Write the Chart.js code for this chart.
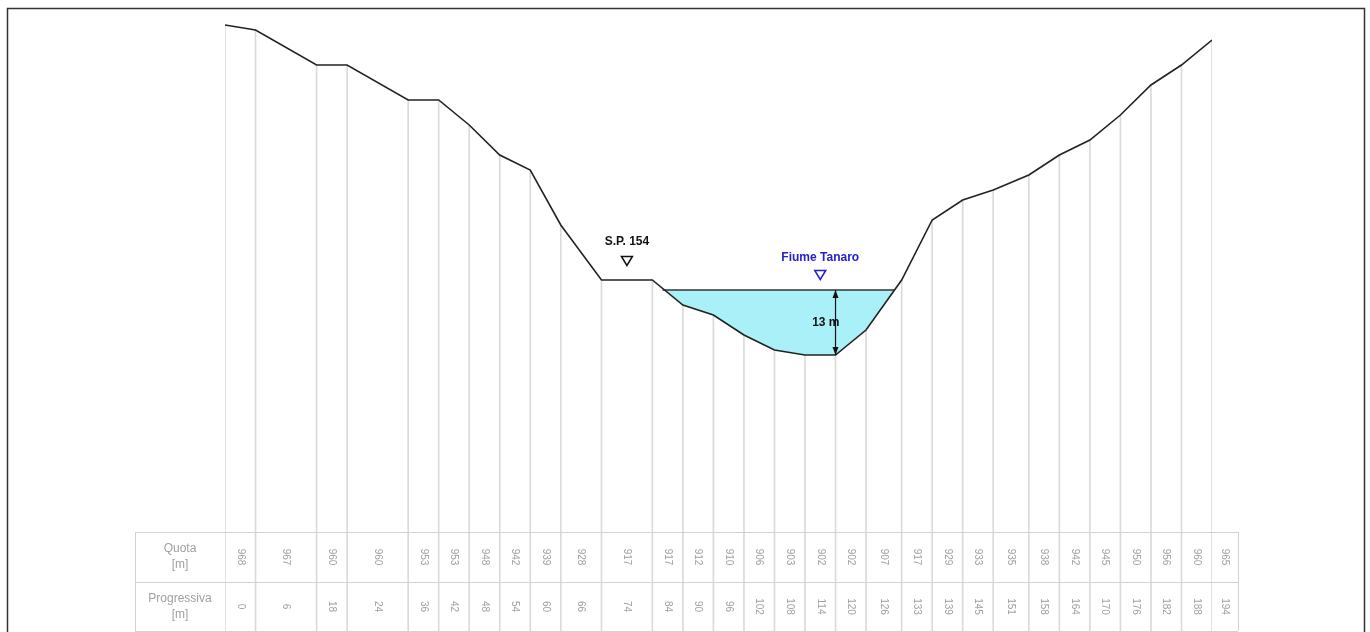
<!DOCTYPE html>
<html>
<head>
<meta charset="utf-8">
<script src="https://cdn.jsdelivr.net/npm/chart.js@4.4.0/dist/chart.umd.min.js"></script>
<style>
  html, body { margin: 0; padding: 0; background: #fff; }
  canvas { display: block; }
</style>
</head>
<body>
<canvas id="profile" width="1370" height="632"></canvas>
<script>
const progressiva = [0, 6, 18, 24, 36, 42, 48, 54, 60, 66, 74, 84, 90, 96, 102, 108, 114, 120, 126, 133, 139, 145, 151, 158, 164, 170, 176, 182, 188, 194];
const quota = [968, 967, 960, 960, 953, 953, 948, 942, 939, 928, 917, 917, 912, 910, 906, 903, 902, 902, 907, 917, 929, 933, 935, 938, 942, 945, 950, 956, 960, 965];

const waterLevel = 915;
const waterEdges = [86, 131.5];   // sponde
const waterDepth = 13;
const depthAt = 120;
const roadLabel = { text: 'S.P. 154', x: 79, y: 917 };
const riverLabel = { text: 'Fiume Tanaro', x: 117, y: 915 };

const Y_MAX = 970;
const Y_MIN = 846.6;

const ground = progressiva.map((x, i) => ({ x, y: quota[i] }));
// tratto del fondo alveo sotto il pelo libero (84 .. 133)
const riverbed = ground.slice(11, 20);

const FONT = '"Liberation Sans", Arial, sans-serif';

function triangle(ctx, x, y, color) {
  ctx.beginPath();
  ctx.moveTo(x - 5.5, y - 4.5);
  ctx.lineTo(x + 5.5, y - 4.5);
  ctx.lineTo(x, y + 4.5);
  ctx.closePath();
  ctx.lineWidth = 1.5;
  ctx.strokeStyle = color;
  ctx.stroke();
}

const frame = {
  id: 'frame',
  beforeDraw(chart) {
    const ctx = chart.ctx;
    ctx.save();
    ctx.fillStyle = '#fff';
    ctx.fillRect(0, 0, chart.width, chart.height);
    ctx.restore();
  },
  afterDraw(chart) {
    const ctx = chart.ctx;
    const xs = chart.scales.x;
    const ys = chart.scales.y;
    ctx.save();

    // annotazioni
    ctx.textAlign = 'center';
    ctx.textBaseline = 'middle';
    ctx.font = 'bold 12px ' + FONT;
    let px = xs.getPixelForValue(roadLabel.x);
    let py = ys.getPixelForValue(roadLabel.y);
    ctx.fillStyle = '#111';
    ctx.fillText(roadLabel.text, px, py - 38);
    triangle(ctx, px, py - 19, '#111');

    px = xs.getPixelForValue(riverLabel.x);
    py = ys.getPixelForValue(riverLabel.y);
    ctx.fillStyle = '#2222cc';
    ctx.fillText(riverLabel.text, px, py - 32);
    triangle(ctx, px, py - 15, '#2222cc');

    // quota idrica
    const ax = xs.getPixelForValue(depthAt);
    const aTop = ys.getPixelForValue(waterLevel);
    const aBot = ys.getPixelForValue(waterLevel - waterDepth);
    ctx.strokeStyle = '#111';
    ctx.fillStyle = '#111';
    ctx.lineWidth = 1.2;
    ctx.beginPath();
    ctx.moveTo(ax, aTop);
    ctx.lineTo(ax, aBot);
    ctx.stroke();
    [[aTop, 1], [aBot, -1]].forEach(([y, d]) => {
      ctx.beginPath();
      ctx.moveTo(ax, y);
      ctx.lineTo(ax - 3, y + 8 * d);
      ctx.lineTo(ax + 3, y + 8 * d);
      ctx.closePath();
      ctx.fill();
    });
    ctx.textAlign = 'right';
    ctx.font = 'bold 12px ' + FONT;
    ctx.fillText(waterDepth + ' m', ax + 4, (aTop + aBot) / 2);

    // tabella
    const tTop = 532, tMid = 582, tBot = 631;
    const tLeft = 135, tRight = 1238;
    ctx.strokeStyle = '#d2d2d2';
    ctx.lineWidth = 1;
    [tTop, tMid, tBot].forEach(y => {
      ctx.beginPath();
      ctx.moveTo(tLeft, y + 0.5);
      ctx.lineTo(tRight, y + 0.5);
      ctx.stroke();
    });
    [tLeft, tRight].forEach(x => {
      ctx.beginPath();
      ctx.moveTo(x + 0.5, tTop);
      ctx.lineTo(x + 0.5, tBot);
      ctx.stroke();
    });

    ctx.fillStyle = '#a0a0a0';
    ctx.textAlign = 'center';
    ctx.font = '12px ' + FONT;
    ctx.fillText('Quota', 180, 549);
    ctx.fillText('[m]', 180, 565);
    ctx.fillText('Progressiva', 180, 599);
    ctx.fillText('[m]', 180, 615);

    ctx.font = '10px ' + FONT;
    progressiva.forEach((p, i) => {
      const x0 = xs.getPixelForValue(p);
      const x1 = i < progressiva.length - 1 ? xs.getPixelForValue(progressiva[i + 1]) : tRight;
      const cx = (x0 + x1) / 2;
      [[quota[i], (tTop + tMid) / 2], [p, (tMid + tBot) / 2]].forEach(([v, cy]) => {
        ctx.save();
        ctx.translate(cx, cy);
        ctx.rotate(Math.PI / 2);
        ctx.fillText(String(v), 0, 0);
        ctx.restore();
      });
    });

    // cornice
    ctx.strokeStyle = '#333';
    ctx.lineWidth = 1.5;
    ctx.beginPath();
    ctx.moveTo(7.5, chart.height + 2);
    ctx.lineTo(7.5, 8.5);
    ctx.lineTo(1364.5, 8.5);
    ctx.lineTo(1364.5, chart.height + 2);
    ctx.stroke();
    ctx.restore();
  }
};

new Chart(document.getElementById('profile'), {
  type: 'line',
  data: {
    datasets: [
      {
        label: 'terreno',
        data: ground,
        borderColor: '#222',
        borderWidth: 1.6,
        pointRadius: 0,
        tension: 0,
        fill: false,
        order: 0
      },
      {
        label: 'pelo libero',
        data: waterEdges.map(x => ({ x, y: waterLevel })),
        borderColor: '#333',
        borderWidth: 1.4,
        pointRadius: 0,
        fill: false,
        order: 1
      },
      {
        label: 'alveo',
        data: riverbed,
        borderWidth: 0,
        pointRadius: 0,
        tension: 0,
        fill: { target: { value: waterLevel }, above: 'rgba(0,0,0,0)', below: '#aaf0f8' },
        order: 2
      },
      {
        type: 'bar',
        label: 'verticali',
        data: ground,
        base: Y_MIN,
        barThickness: 1,
        backgroundColor: '#dadada',
        borderWidth: 0,
        order: 3
      }
    ]
  },
  options: {
    responsive: false,
    animation: false,
    events: [],
    layout: { padding: { left: 225, right: 158, top: 15, bottom: 0 } },
    plugins: {
      legend: { display: false },
      tooltip: { enabled: false },
      filler: { propagate: false }
    },
    scales: {
      x: { type: 'linear', min: 0, max: 194, offset: false, display: false },
      y: { type: 'linear', min: Y_MIN, max: Y_MAX, display: false }
    }
  },
  plugins: [frame]
});
</script>
</body>
</html>
